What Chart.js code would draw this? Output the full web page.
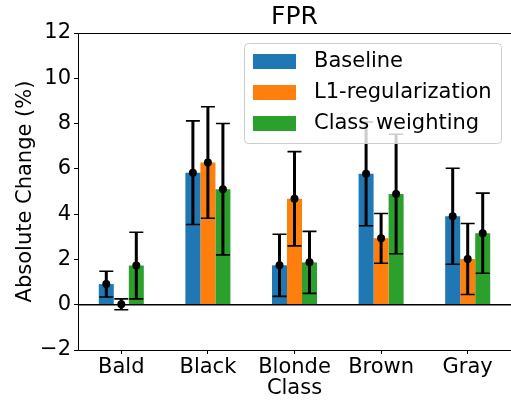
<!DOCTYPE html>
<html>
<head>
<meta charset="utf-8">
<script src="https://cdn.jsdelivr.net/npm/chart.js@4"></script>
<style>
  body { margin: 0; background: #fff; }
  #wrap { width: 511px; height: 401px; }
</style>
</head>
<body>
<div id="wrap"><canvas id="grafico" width="511" height="401"></canvas></div>
<script>
// ==================== Dados ====================
const categories = ['Bald', 'Black', 'Blonde', 'Brown', 'Gray'];
const seriesNames = ['Baseline', 'L1-regularization', 'Class weighting'];
const seriesColors = ['#1f77b4', '#ff7f0e', '#2ca02c'];

const baseline = [0.91, 5.83, 1.74, 5.78, 3.91];
const baselineErr = [0.57, 2.29, 1.37, 2.29, 2.12];
const l1 = [0.02, 6.28, 4.68, 2.93, 2.02];
const l1Err = [0.24, 2.46, 2.08, 1.10, 1.57];
const classWeighting = [1.73, 5.10, 1.87, 4.89, 3.16];
const classWeightingErr = [1.47, 2.90, 1.37, 2.64, 1.77];

const yTicks = [-2, 0, 2, 4, 6, 8, 10, 12];

const values = [baseline, l1, classWeighting];
const errors = [baselineErr, l1Err, classWeightingErr];

Chart.defaults.font.family = "'DejaVu Sans', sans-serif";
Chart.defaults.font.size = 21;
Chart.defaults.color = '#000';

// ==================== Plugins ====================
// Barras de erro + pontos, linha do zero e moldura superior
const errorBars = {
  id: 'errorBars',
  afterDatasetsDraw(chart) {
    const { ctx, chartArea, scales: { y } } = chart;
    ctx.save();

    // linha horizontal em y = 0
    const y0 = y.getPixelForValue(0);
    ctx.strokeStyle = '#000';
    ctx.lineWidth = 1.5;
    ctx.beginPath();
    ctx.moveTo(chartArea.left, y0);
    ctx.lineTo(chartArea.right, y0);
    ctx.stroke();

    // moldura superior
    ctx.lineWidth = 1;
    ctx.beginPath();
    ctx.moveTo(chartArea.left, Math.round(chartArea.top) + 0.5);
    ctx.lineTo(chartArea.right, Math.round(chartArea.top) + 0.5);
    ctx.stroke();

    chart.data.datasets.forEach((ds, i) => {
      const meta = chart.getDatasetMeta(i);
      meta.data.forEach((bar, j) => {
        const v = values[i][j];
        const e = errors[i][j];
        const x = bar.x;
        const yHi = y.getPixelForValue(v + e);
        const yLo = y.getPixelForValue(v - e);

        ctx.strokeStyle = '#000';
        ctx.lineWidth = 3;
        ctx.beginPath();
        ctx.moveTo(x, yHi);
        ctx.lineTo(x, yLo);
        ctx.stroke();

        // tampas
        ctx.lineWidth = 1.6;
        ctx.beginPath();
        ctx.moveTo(x - 7, yHi);
        ctx.lineTo(x + 7, yHi);
        ctx.moveTo(x - 7, yLo);
        ctx.lineTo(x + 7, yLo);
        ctx.stroke();

        // ponto
        ctx.fillStyle = '#000';
        ctx.beginPath();
        ctx.arc(x, y.getPixelForValue(v), 4, 0, Math.PI * 2);
        ctx.fill();
      });
    });
    ctx.restore();
  },
  afterDraw(chart) {
    const { ctx, chartArea } = chart;
    ctx.save();

    // título
    ctx.fillStyle = '#000';
    ctx.font = "25px 'DejaVu Sans', sans-serif";
    ctx.textAlign = 'center';
    ctx.textBaseline = 'middle';
    ctx.fillText('FPR', (chartArea.left + 511) / 2, 17);

    // legenda dentro do gráfico
    const bx = 244.5, by = 43.5, bw = 257, bh = 100;
    ctx.fillStyle = 'rgba(255,255,255,0.8)';
    ctx.strokeStyle = '#cccccc';
    ctx.lineWidth = 1;
    ctx.beginPath();
    ctx.roundRect(bx, by, bw, bh, 4);
    ctx.fill();
    ctx.stroke();

    ctx.font = "21px 'DejaVu Sans', sans-serif";
    ctx.textAlign = 'left';
    seriesNames.forEach((name, i) => {
      const cy = 61.5 + i * 31;
      ctx.fillStyle = seriesColors[i];
      ctx.fillRect(253, cy - 7.5, 43, 15);
      ctx.fillStyle = '#000';
      ctx.fillText(name, 314, cy);
    });
    ctx.restore();
  }
};

// ==================== Gráfico ====================
const ctx = document.getElementById('grafico').getContext('2d');

new Chart(ctx, {
  type: 'bar',
  data: {
    labels: categories,
    datasets: seriesNames.map((name, i) => ({
      label: name,
      data: values[i],
      backgroundColor: seriesColors[i],
      borderWidth: 0,
      categoryPercentage: 0.52,
      barPercentage: 1.0
    }))
  },
  options: {
    responsive: false,
    animation: false,
    layout: { padding: { top: 33, right: -3, left: 0, bottom: 0 } },
    plugins: {
      legend: { display: false },
      title: { display: false },
      tooltip: { enabled: false }
    },
    scales: {
      x: {
        offset: true,
        grid: { offset: false, drawOnChartArea: false, drawTicks: true, tickLength: 4, color: '#000' },
        border: { display: true, color: '#000', width: 1 },
        ticks: { padding: 1, maxRotation: 0, autoSkip: false },
        title: { display: true, text: 'Class', padding: 0 },
        afterFit(scale) { scale.height = 51; }
      },
      y: {
        min: -2,
        max: 12,
        afterBuildTicks(scale) { scale.ticks = yTicks.map(v => ({ value: v })); },
        grid: { drawOnChartArea: false, drawTicks: true, tickLength: 4, color: '#000' },
        border: { display: true, color: '#000', width: 1 },
        ticks: {
          padding: 3,
          // sinal de menos tipográfico, como no original
          callback: (v) => String(v).replace('-', '\u2212')
        },
        title: { display: true, text: 'Absolute Change (%)', padding: { top: 13, bottom: 0 } },
        afterFit(scale) { scale.width = 78; }
      }
    }
  },
  plugins: [errorBars]
});
</script>
</body>
</html>
